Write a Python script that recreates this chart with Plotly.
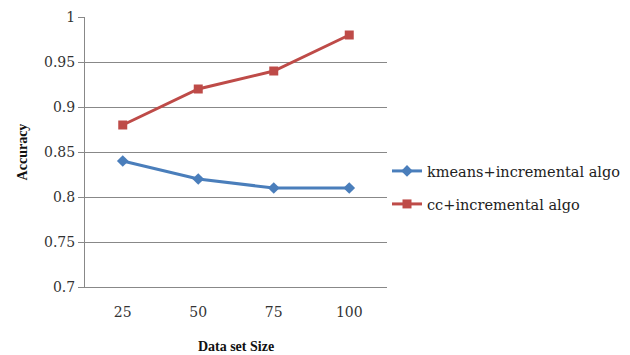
import plotly.graph_objects as go

# Data set sizes and accuracy for each approach
sizes = ["25", "50", "75", "100"]
kmeans_acc = [0.84, 0.82, 0.81, 0.81]
cc_acc = [0.88, 0.92, 0.94, 0.98]
y_ticks = [0.7, 0.75, 0.8, 0.85, 0.9, 0.95, 1]
y_tick_text = ["0.7", "0.75", "0.8", "0.85", "0.9", "0.95", "1"]

serif = "DejaVu Serif"
title_serif = "Liberation Serif"

fig = go.Figure()
fig.add_trace(go.Scatter(
    x=sizes, y=kmeans_acc, mode="lines+markers", name="kmeans+incremental algo",
    line=dict(color="#4a7ebb", width=3),
    marker=dict(symbol="diamond", size=9, color="#4a7ebb"),
    legend="legend", showlegend=True,
))
fig.add_trace(go.Scatter(
    x=sizes, y=cc_acc, mode="lines+markers", name="cc+incremental algo",
    line=dict(color="#be4b48", width=3),
    marker=dict(symbol="square", size=9, color="#be4b48"),
    legend="legend2", showlegend=True,
))

legend_style = dict(
    x=1.0, xanchor="left", yanchor="middle",
    font=dict(family=serif, size=14.5, color="#222"),
    bgcolor="rgba(0,0,0,0)", itemwidth=30,
)

fig.update_layout(
    width=630, height=355,
    showlegend=True,
    margin=dict(l=85, r=243, t=17, b=68, autoexpand=False),
    paper_bgcolor="white", plot_bgcolor="white",
    font=dict(family=serif, size=14, color="#333"),
    legend=dict(y=(287 - 171) / 270, **legend_style),
    legend2=dict(y=(287 - 204) / 270, **legend_style),
    xaxis=dict(
        type="category", range=[-0.5, 3.5], automargin=False,
        showline=True, linecolor="#888", linewidth=1,
        showgrid=False, ticks="", ticklabelstandoff=12,
        tickfont=dict(family=serif, size=14, color="#333"),
        title=dict(text="<b>Data set Size</b>", font=dict(family=title_serif, size=14, color="#111"), standoff=22),
    ),
    yaxis=dict(
        range=[0.7, 1.0], tickvals=y_ticks, ticktext=y_tick_text, automargin=False,
        showline=True, linecolor="#888", linewidth=1,
        showgrid=True, gridcolor="#888", gridwidth=1,
        ticks="outside", ticklen=6, tickcolor="#888",
        tickfont=dict(family=serif, size=14, color="#333"),
        title=dict(text="<b>Accuracy</b>", font=dict(family=title_serif, size=14, color="#111"), standoff=13),
        zeroline=False,
    ),
)

fig.write_html("out.html")
